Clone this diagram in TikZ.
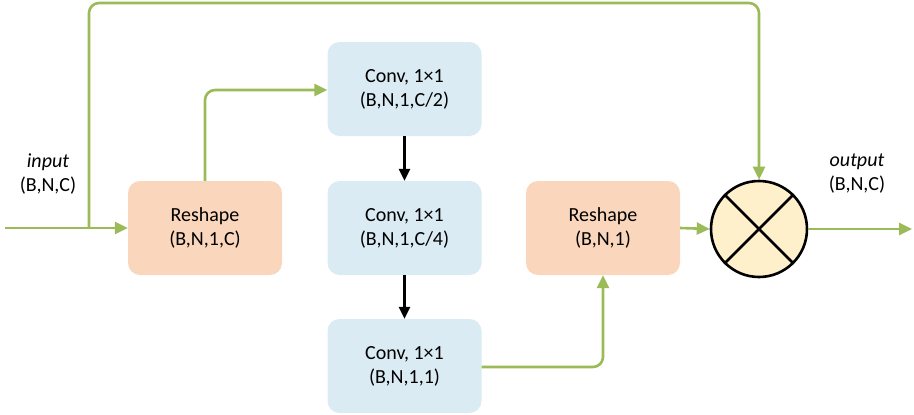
\documentclass[tikz,border=0pt]{standalone}
\usepackage{fontspec}
\setmainfont{Carlito}
\usetikzlibrary{arrows.meta}
\definecolor{flowgreen}{HTML}{9BBB59}
\definecolor{peach}{HTML}{F9D6BC}
\definecolor{paleblue}{HTML}{DAEBF3}
\definecolor{cream}{HTML}{FFF0CC}
\begin{document}
\begin{tikzpicture}[x=1pt,y=-1pt,
  box/.style={rounded corners=12pt, minimum width=154pt, minimum height=94pt,
    align=center, font=\fontsize{20}{24}\selectfont, inner sep=0pt},
  reshapebox/.style={box, fill=peach},
  convbox/.style={box, fill=paleblue},
  flow/.style={draw=flowgreen, line width=2.6pt, rounded corners=10pt,
    -{Triangle[length=13pt,width=12pt]}},
  blackflow/.style={draw=black, line width=2.6pt,
    -{Triangle[length=12pt,width=11pt]}},
  lbl/.style={font=\fontsize{20}{24}\selectfont, align=center}]
\useasboundingbox (0,0) rectangle (914,415);

\node[reshapebox] (r1) at (205,228) {Reshape\\(B,N,1,C)};
\node[convbox] (c1) at (404.5,89) {Conv, 1×1\\(B,N,1,C/2)};
\node[convbox] (c2) at (404.5,228) {Conv, 1×1\\(B,N,1,C/4)};
\node[convbox] (c3) at (404.5,366) {Conv, 1×1\\(B,N,1,1)};
\node[reshapebox] (r2) at (603,228) {Reshape\\(B,N,1)};
\node[circle, draw=black, line width=2.6pt, fill=cream, minimum size=96pt,
  inner sep=0pt] (m) at (759,229) {};
\draw[line width=2.6pt] (m.45) -- (m.225) (m.135) -- (m.315);

\node[lbl] (inl) at (48,174) {\textit{input}\\(B,N,C)};
\node[lbl] (outl) at (857,174) {\textit{output}\\(B,N,C)};

\coordinate (start) at (5,228);
\coordinate (branch) at (89,228);
\coordinate (endp) at (912,229);

\draw[flow] (start) -- (r1.west);
\draw[flow] (branch) -- (89,3) -- (m.north |- 0,3) -- (m.north);
\draw[flow] (r1.north) -- (205,90) -- (c1.west |- 0,90);
\draw[blackflow] (c1.south) -- (c2.north);
\draw[blackflow] (c2.south) -- (c3.north);
\draw[flow] (c3.east |- 0,367) -- (603,367) -- (r2.south);
\draw[flow] (r2.east) -- (m.west);
\draw[flow] (m.east) -- (endp);
\end{tikzpicture}
\end{document}
